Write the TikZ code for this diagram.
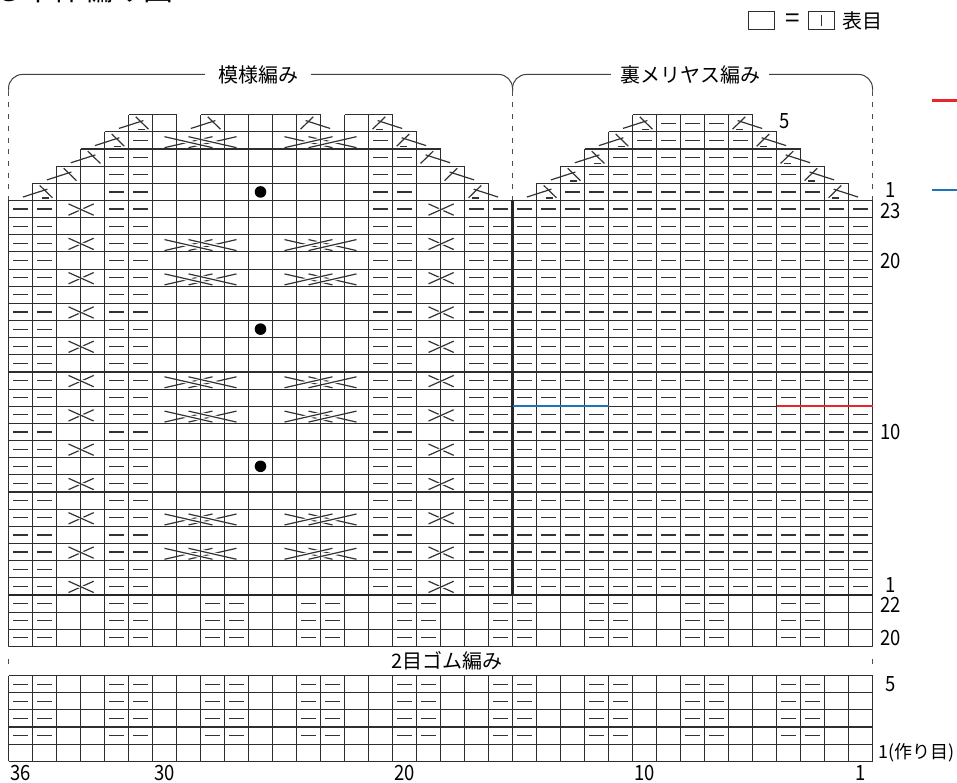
\documentclass[tikz,border=0pt]{standalone}
\usepackage{fontspec}
\newfontfamily\jpfont{Noto Sans CJK JP}
\newfontfamily\numfont[FakeStretch=0.88]{Noto Sans CJK JP}
\definecolor{gridgray}{HTML}{2E2E2E}
\definecolor{markred}{HTML}{E8262C}
\definecolor{markblue}{HTML}{1B75BC}
\tikzset{
  chartgrid/.style={draw=gridgray,line width=1.1pt,xstep=1,ystep=1},
  stitch/.style={draw=black!80,line width=1.2pt},
  overstrand/.style={stitch,preaction={draw=white,line width=3.6pt}},
  divider/.style={draw=black!85,line width=2.4pt},
  bracket/.style={draw=black!75,line width=1pt,rounded corners=14pt},
  sectionrule/.style={draw=black!70,line width=1pt,dash pattern=on 5pt off 6.7pt},
  rowmark/.style={line width=2.2pt},
  jplabel/.style={font=\jpfont\fontsize{20}{20}\selectfont,inner sep=0pt},
  numlabel/.style={font=\numfont\fontsize{21}{21}\selectfont,inner sep=0pt},
  legendbox/.style={draw=gridgray,line width=1pt,minimum width=26pt,minimum height=18pt,inner sep=0pt},
  purl/.pic={\draw[stitch] (0.2,0.5) -- (0.8,0.5);},
  decL/.pic={\draw[stitch] (-0.4,0.2) -- (0.62,0.66); \draw[stitch] (0.3,0.88) -- (0.83,0.16);},
  decR/.pic={\draw[stitch] (1.4,0.2) -- (0.38,0.66); \draw[stitch] (0.7,0.88) -- (0.17,0.16);},
  pdecL/.pic={\draw[stitch] (-0.4,0.2) -- (0.62,0.66); \draw[stitch] (0.3,0.88) -- (0.83,0.16);
    \draw[stitch] (0.4,0.14) -- (0.68,0.14);},
  pdecR/.pic={\draw[stitch] (1.4,0.2) -- (0.38,0.66); \draw[stitch] (0.7,0.88) -- (0.17,0.16);
    \draw[stitch] (0.6,0.14) -- (0.32,0.14);},
  crossL/.pic={\draw[stitch] (0.5,0.14) -- (1.55,0.8); \draw[overstrand] (0.5,0.8) -- (1.55,0.14);},
  crossR/.pic={\draw[stitch] (0.5,0.8) -- (1.55,0.14); \draw[overstrand] (0.5,0.14) -- (1.55,0.8);},
  cableL/.pic={\draw[stitch] (0.5,0.08) -- (2.5,0.72) (1.5,0.08) -- (3.5,0.72);
    \draw[overstrand] (0.5,0.72) -- (2.5,0.08) (1.5,0.72) -- (3.5,0.08);},
  cableR/.pic={\draw[stitch] (0.5,0.72) -- (2.5,0.08) (1.5,0.72) -- (3.5,0.08);
    \draw[overstrand] (0.5,0.08) -- (2.5,0.72) (1.5,0.08) -- (3.5,0.72);},
}
\begin{document}
\begin{tikzpicture}[x=24pt,y=17.15pt]
\useasboundingbox (-0.3542,-1.207) rectangle (39.5208,44.3907);

\begin{scope}
  \foreach \r in {1,...,4}
    \foreach \c in {0,4,...,32} {
      \pic at (\c,\r) {purl};
      \pic at (\c+1,\r) {purl};
    }
  \draw[chartgrid] (0,0) grid (36,5);
\end{scope}

\begin{scope}[shift={(0,6.7)}]
  \foreach \r in {0,1,2}
    \foreach \c in {0,4,...,32} {
      \pic at (\c,\r) {purl};
      \pic at (\c+1,\r) {purl};
    }
  \draw[chartgrid] (0,0) grid (36,3);
\end{scope}

\begin{scope}[shift={(0,9.7)}]
  \foreach \r in {0,...,22} {
    \foreach \c in {0,1,4,5,15,16,19,20}
      \pic at (\c,\r) {purl};
    \foreach \c in {21,...,35}
      \pic at (\c,\r) {purl};
  }
  \foreach \r in {0,2,...,22} {
    \pic at (2,\r) {crossL};
    \pic at (17,\r) {crossR};
  }
  \foreach \r in {2,4,10,12,18,20} {
    \pic at (6,\r) {cableL};
    \pic at (11,\r) {cableR};
  }
  \foreach \r in {7,15}
    \fill (10.5,\r+0.5) circle (5.8pt);
  \draw[chartgrid] (0,0) grid (36,23);
  \draw[divider] (21,0) -- (21,23);
  \draw[divider] (0,0) -- (36,0);
  \draw[rowmark,markblue] (21,11) -- (25,11);
  \draw[rowmark,markred] (32,11) -- (36,11);
\end{scope}

\begin{scope}[shift={(0,32.7)}]
  \pic at (1,0) {pdecL};
  \pic at (19,0) {pdecR};
  \pic at (2,1) {decL};
  \pic at (18,1) {decR};
  \pic at (3,2) {decL};
  \pic at (17,2) {decR};
  \pic at (4,3) {pdecL};
  \pic at (16,3) {pdecR};
  \pic at (5,4) {pdecL};
  \pic at (8,4) {decL};
  \pic at (12,4) {decR};
  \pic at (15,4) {pdecR};
  \foreach \r in {0,1,2}
    \foreach \c in {4,5,15,16}
      \pic at (\c,\r) {purl};
  \pic at (5,3) {purl};
  \pic at (15,3) {purl};
  \pic at (6,3) {cableL};
  \pic at (11,3) {cableR};
  \fill (10.5,0.5) circle (5.8pt);
  \foreach \s in {1,...,5} {
    \pgfmathtruncatemacro\first{22+\s}
    \pgfmathtruncatemacro\last{34-\s}
    \pic at (21+\s,\s-1) {pdecL};
    \pic at (35-\s,\s-1) {pdecR};
    \foreach \c in {\first,...,\last}
      \pic at (\c,\s-1) {purl};
  }
  \draw[chartgrid] (1,0) grid (20,1) (2,1) grid (19,2) (3,2) grid (18,3) (4,3) grid (17,4)
    (5,4) grid (7,5) (8,4) grid (13,5) (14,4) grid (16,5);
  \draw[chartgrid] (22,0) grid (35,1) (23,1) grid (34,2) (24,2) grid (33,3) (25,3) grid (32,4)
    (26,4) grid (31,5);
\end{scope}

\draw[sectionrule] (0,39.1) -- (0,32.7);
\draw[sectionrule] (21,39.1) -- (21,32.7);
\draw[sectionrule] (36,39.1) -- (36,32.7);
\draw[sectionrule,dash pattern=on 5pt off 12pt,dash phase=5pt] (0,5) -- (0,6.7);
\draw[sectionrule,dash pattern=on 5pt off 12pt,dash phase=5pt] (36,5) -- (36,6.7);
\draw[bracket] (0,39.1) -- (0,40.05) -- (21,40.05) -- (21,39.1);
\draw[bracket] (21,39.1) -- (21,40.05) -- (36,40.05) -- (36,39.1);
\node[jplabel,fill=white,inner xsep=13pt] (patternlabel) at (10.4,40.05) {模様編み};
\node[jplabel,fill=white,inner xsep=9pt] (reverselabel) at (28.4,40.05) {裏メリヤス編み};
\node[jplabel] (ribbinglabel) at (18.26,5.85) {2目ゴム編み};

\node[anchor=base west,font=\jpfont\fontsize{30}{30}\selectfont,inner sep=0pt] (title) at (-0.646,44.36) {る本体編み図};
\node[legendbox] (plainbox) at (31.375,43.17) {};
\node[font=\jpfont\fontsize{26}{26}\selectfont,inner sep=0pt] (equals) at (32.67,43.17) {=};
\node[legendbox] (knitbox) at (33.875,43.17) {};
\draw[stitch] ([yshift=4pt]knitbox.south) -- ([yshift=-4pt]knitbox.north);
\node[jplabel] (knitlabel) at (35.6,43.17) {表目};

\node[numlabel] (shapefive) at (32.35,37.31) {5};
\node[numlabel] (shapeone) at (36.77,33.3) {1};
\node[numlabel] (bodytop) at (36.77,32.1) {23};
\node[numlabel] (bodytwenty) at (36.77,29.2) {20};
\node[numlabel] (bodyten) at (36.77,19.2) {10};
\node[numlabel] (bodyone) at (36.77,10.3) {1};
\node[numlabel] (ribtop) at (36.77,9.1) {22};
\node[numlabel] (ribtwenty) at (36.77,7.2) {20};
\node[numlabel] (ribfive) at (36.77,4.5) {5};
\node[anchor=west,font=\jpfont\fontsize{18}{18}\selectfont,inner sep=0pt] (caston) at (36.25,0.5) {1(作り目)};

\node[numlabel] (colthirtysix) at (0.5,-0.68) {36};
\node[numlabel] (colthirty) at (6.5,-0.68) {30};
\node[numlabel] (coltwenty) at (16.5,-0.68) {20};
\node[numlabel] (colten) at (26.5,-0.68) {10};
\node[numlabel] (colone) at (35.5,-0.68) {1};

\draw[rowmark,markred] (38.48,38.53) -- (39.7,38.53);
\draw[rowmark,markblue] (38.48,33.31) -- (39.7,33.31);
\end{tikzpicture}
\end{document}
